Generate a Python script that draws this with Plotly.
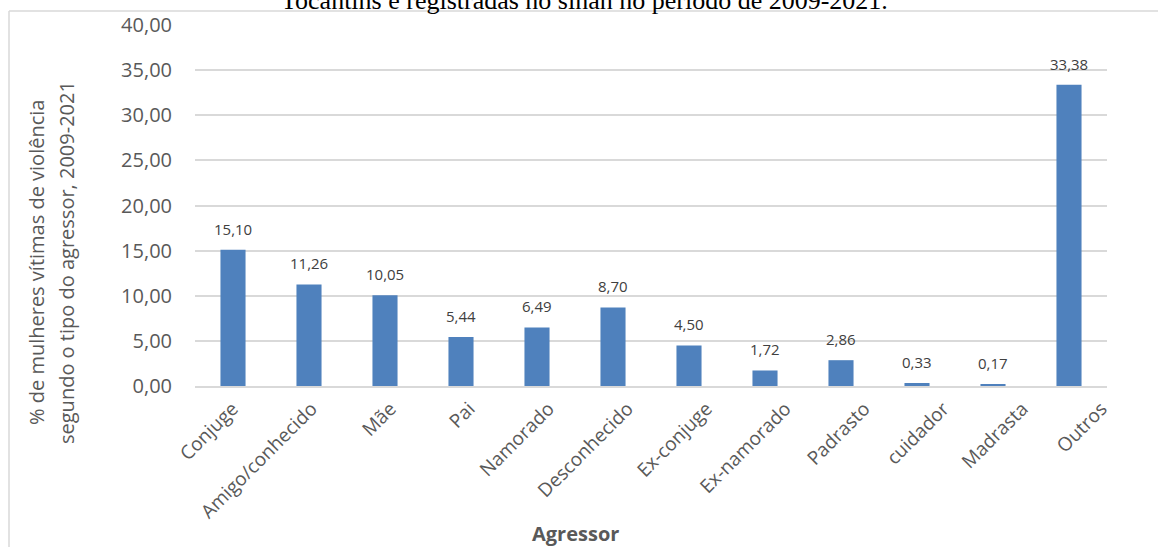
import plotly.graph_objects as go

# Agressor categories and share of victims (%)
agressores = ["Conjuge", "Amigo/conhecido", "Mãe", "Pai", "Namorado", "Desconhecido",
              "Ex-conjuge", "Ex-namorado", "Padrasto", "cuidador", "Madrasta", "Outros"]
percentuais = [15.10, 11.26, 10.05, 5.44, 6.49, 8.70, 4.50, 1.72, 2.86, 0.33, 0.17, 33.38]
y_ticks = [0, 5, 10, 15, 20, 25, 30, 35, 40]
y_title_lines = ["% de mulheres vítimas de violência",
                 "segundo o tipo do agressor, 2009-2021"]

W, H = 1158, 547
L, R, T, B = 195, 51, 25, 161
pw, ph = W - L - R, H - T - B

def px_x(x):
    return (x - L) / pw

def px_y(y):
    return 1 - (y - T) / ph

gray = "#595959"
fnt = "Open Sans, Noto Sans, sans-serif"

fig = go.Figure()
fig.add_trace(go.Bar(
    x=agressores, y=percentuais,
    marker=dict(color="#4F81BD", line=dict(width=0)),
    width=0.33, hoverinfo="x+y",
))
# category labels live on a companion axis with slightly wider spacing
fig.add_trace(go.Scatter(
    x=agressores, y=percentuais, xaxis="x2", yaxis="y",
    mode="markers", marker=dict(opacity=0), hoverinfo="skip", showlegend=False,
))

# value labels above bars
for a, v in zip(agressores, percentuais):
    fig.add_annotation(
        x=a, y=v, xref="x", yref="y",
        text=f"{v:.2f}".replace(".", ","),
        showarrow=False, yanchor="bottom", yshift=9,
        font=dict(family=fnt, size=15, color="#404040"),
    )

# chart title (continuation line)
fig.add_annotation(
    x=px_x(584), y=px_y(1), xref="paper", yref="paper",
    text="Tocantins e registradas no sinan no período de 2009-2021.",
    showarrow=False, xanchor="center", yanchor="middle",
    font=dict(family="Liberation Serif, Times New Roman, serif", size=26, color="black"),
)

# y-axis title, two lines
for xpos, line in zip([36, 66], y_title_lines):
    fig.add_annotation(
        x=px_x(xpos), y=px_y(263), xref="paper", yref="paper",
        text=line, showarrow=False, textangle=-90,
        xanchor="center", yanchor="middle",
        font=dict(family=fnt, size=20, color=gray),
    )

# x-axis title
fig.add_annotation(
    x=px_x(575), y=px_y(533), xref="paper", yref="paper",
    text="<b>Agressor</b>", showarrow=False, xanchor="center", yanchor="middle",
    font=dict(family=fnt, size=20, color=gray),
)

# chart frame
fig.add_shape(type="line", xref="paper", yref="paper",
              x0=px_x(9), x1=px_x(9), y0=px_y(11), y1=px_y(560),
              line=dict(color="#d9d9d9", width=1.5))
fig.add_shape(type="line", xref="paper", yref="paper",
              x0=px_x(9), x1=px_x(1170), y0=px_y(11), y1=px_y(11),
              line=dict(color="#d9d9d9", width=1.5))

n = len(agressores)
fig.update_layout(
    width=W, height=H,
    margin=dict(l=L, r=R, t=T, b=B),
    paper_bgcolor="white", plot_bgcolor="white",
    separators=", ",
    bargap=0.67,
    showlegend=False,
    font=dict(family=fnt, color=gray),
    xaxis=dict(
        range=[-0.5, n - 0.5],
        showticklabels=False,
        showgrid=False, showline=True, linecolor="#d9d9d9", linewidth=1.5,
        ticks="", fixedrange=True,
    ),
    xaxis2=dict(
        overlaying="x", side="bottom", anchor="y",
        range=[-0.475, 11.07],
        tickangle=-45, tickfont=dict(size=19, color=gray),
        showgrid=False, showline=False, zeroline=False,
        ticks="", ticklabelstandoff=7, fixedrange=True,
    ),
    yaxis=dict(
        range=[0, 40], tickvals=y_ticks, tickformat=".2f",
        tickfont=dict(size=20, color=gray),
        showgrid=True, gridcolor="#d9d9d9", gridwidth=1.5,
        zeroline=False, showline=False, ticks="",
        ticklabelstandoff=22, fixedrange=True,
    ),
)

fig.write_html("out.html")
